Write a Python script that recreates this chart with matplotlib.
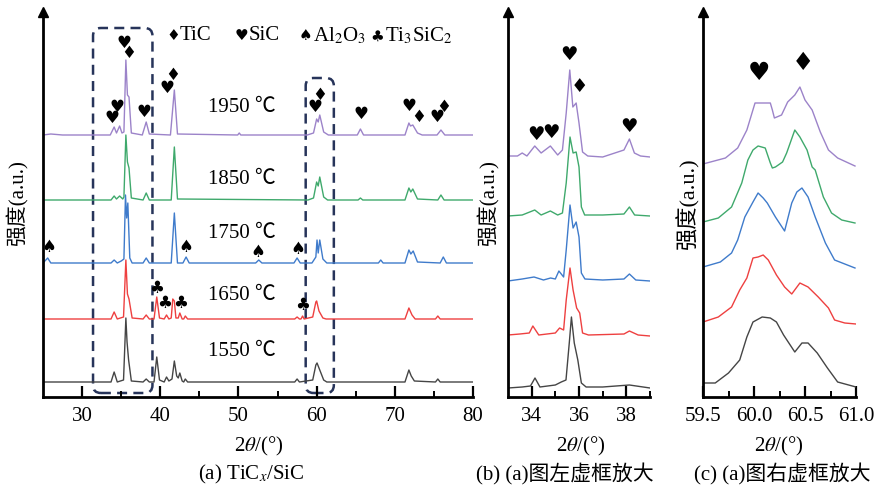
import numpy as np
import matplotlib
matplotlib.use('Agg')
import matplotlib.pyplot as plt
from matplotlib.patches import FancyBboxPatch

plt.rcParams['font.family'] = ['Liberation Serif', 'Noto Sans CJK SC', 'DejaVu Sans']
plt.rcParams['mathtext.fontset'] = 'stix'

# ---- data (intensity above each curve's own baseline, arbitrary units) ----
temps = ['1550 ℃', '1650 ℃', '1750 ℃', '1850 ℃', '1950 ℃']
colors = ['#454545', '#ee4040', '#3f7bcb', '#3fa96c', '#9c83c9']

# panel (a): full scan 25-80
a_x_1550 = [25, 30, 33.7, 34.1, 34.5, 35.3, 35.6, 35.75, 35.95, 36.3, 37.8, 38.2, 38.6, 39.2, 39.55, 39.9,
            40.5, 40.8, 41.1, 41.5, 41.8, 42.1, 42.3, 42.5, 42.8, 43.0, 43.2, 43.5, 57.2, 57.5, 57.8, 59.5,
            59.9, 60.05, 60.3, 60.5, 60.9, 61.3, 71.3, 71.8, 72.1, 72.5, 75.2, 75.5, 75.8, 80]
a_y_1550 = [0, 0, 0, 10, 0, 2, 64, 40, 22, 1, 0, 3, 0, 0, 25, 2,
            0, 5, 1, 3, 21, 6, 4, 9, 1, 0, 3, 0, 0, 3, 0, 2,
            17, 19, 14, 10, 2, 0, 0, 12, 6, 1, 0, 3, 0, 0]
a_x_1650 = [25, 30, 33.7, 34.1, 34.5, 35.3, 35.6, 35.8, 36.0, 36.4, 37.8, 38.2, 38.6, 39.2, 39.55, 39.9,
            40.5, 40.8, 41.1, 41.4, 41.6, 41.8, 42.0, 42.3, 42.5, 42.8, 43.0, 43.2, 43.5, 57.2, 57.5, 57.8,
            58.0, 58.2, 58.4, 59.5, 59.9, 60.0, 60.3, 60.8, 61.2, 71.3, 71.8, 72.2, 72.6, 75.2, 75.5, 75.8, 80]
a_y_1650 = [0, 0, 0, 7, 0, 2, 59, 25, 20, 1, 0, 4, 0, 0, 22, 1,
            0, 4, 0, 1, 20, 18, 1, 1, 6, 0, 0, 3, 0, 0, 2, 0,
            0, 3, 0, 2, 17, 18, 8, 1, 0, 0, 11, 4, 0, 0, 3, 0, 0]
a_x_1750 = [25, 25.6, 26.0, 30, 33.7, 34.1, 34.5, 35.0, 35.35, 35.55, 35.7, 35.85, 36.1, 36.4, 37.8, 38.2,
            38.6, 41.4, 41.8, 42.2, 42.9, 43.3, 43.7, 52.2, 52.6, 53.0, 57.1, 57.5, 57.9, 59.4, 59.9, 60.05,
            60.2, 60.4, 60.8, 61.3, 67.9, 68.2, 68.5, 71.3, 71.8, 72.05, 72.35, 72.9, 75.8, 76.2, 76.6, 80]
a_y_1750 = [0, 5, 0, 0, 0, 3, 0, 2, 4, 68, 45, 60, 5, 0, 0, 5,
            0, 0, 50, 0, 0, 6, 0, 0, 3, 0, 0, 5, 0, 0, 6, 23,
            10, 23, 4, 0, 0, 3, 0, 0, 13, 9, 12, 1, 0, 6, 0, 0]
a_x_1850 = [25, 30, 33.7, 34.1, 34.4, 34.8, 35.2, 35.35, 35.6, 35.8, 36.0, 36.3, 37.8, 38.2, 38.6, 41.4,
            41.8, 42.2, 58.9, 59.6, 60.0, 60.2, 60.4, 60.9, 61.4, 65.3, 65.6, 65.9, 71.3, 71.8, 72.05, 72.3,
            72.9, 75.5, 75.9, 76.3, 80]
a_y_1850 = [0, 0, 0, 4, 1, 4, 1, 3, 65, 38, 32, 2, 0, 7, 0, 0,
            53, 1, 0, 2, 18, 14, 23, 3, 0, 0, 2, 0, 0, 12, 8, 11,
            1, 0, 5, 0, 0]
a_x_1950 = [25, 26, 27.5, 30, 33.6, 34.1, 34.4, 34.8, 35.1, 35.35, 35.6, 35.8, 36.0, 36.3, 37.7, 38.2,
            38.6, 41.3, 41.8, 42.2, 49.9, 50.1, 50.3, 58.8, 59.6, 60.0, 60.2, 60.4, 60.9, 61.5, 65.2, 65.6,
            66.0, 71.3, 71.8, 72.0, 72.3, 72.9, 73.5, 75.4, 75.9, 76.4, 80]
a_y_1950 = [0, 1, 0, 0, 0, 8, 2, 9, 2, 3, 75, 40, 38, 2, 0, 13,
            1, 0, 45, 1, 0, 2, 0, 0, 2, 16, 13, 20, 3, 0, 0, 6,
            0, 0, 12, 9, 10, 2, 0, 0, 5, 0, 0]

# panel (b): zoom 33-39
b_x_1550 = [33.0, 33.6, 33.95, 34.14, 34.35, 35.0, 35.25, 35.45, 35.6, 35.68, 35.8, 35.95, 36.1, 36.3, 37.0, 38.13, 39.0]
b_y_1550 = [0, 1, 2, 10, 1, 3, 6, 8, 48, 71, 45, 28, 5, 1, 1, 3, 0]
b_x_1650 = [33.0, 33.5, 33.9, 34.05, 34.3, 35.0, 35.18, 35.35, 35.46, 35.62, 35.75, 35.9, 36.03, 36.15, 36.4, 37.9, 38.13, 38.5, 39.0]
b_y_1650 = [0, 1, 2, 9, 0, 2, 7, 5, 35, 67, 45, 27, 22, 2, 0, 1, 4, 0, -1]
b_x_1750 = [33.0, 33.6, 34.1, 34.5, 34.8, 35.0, 35.15, 35.35, 35.46, 35.62, 35.75, 35.88, 36.0, 36.1, 36.25, 37.0, 37.9, 38.13, 38.4, 39.0]
b_y_1750 = [-1, 1, 3, 0, 2, 1, 9, 3, 30, 75, 52, 58, 43, 7, 1, 0, 1, 6, 0, -1]
b_x_1850 = [33.0, 33.6, 34.13, 34.4, 34.79, 35.1, 35.3, 35.46, 35.62, 35.75, 35.88, 36.0, 36.1, 36.24, 37.0, 37.9, 38.13, 38.35, 39.0]
b_y_1850 = [-1, 0, 5, 0, 4, 0, 2, 32, 78, 62, 63, 48, 8, 0, 0, 1, 8, 0, -1]
b_x_1950 = [33.0, 33.4, 33.6, 33.8, 34.13, 34.4, 34.79, 35.1, 35.3, 35.46, 35.61, 35.74, 35.88, 36.0, 36.15, 36.37, 37.0, 37.9, 38.13, 38.34, 38.6, 39.0]
b_y_1950 = [0, 0, 3, 0, 10, 3, 10, 1, 6, 43, 86, 49, 53, 33, 4, 0, -1, 6, 17, 3, 0, -1]

# panel (c): zoom 59.5-61
c_x_1550 = [59.50, 59.62, 59.75, 59.86, 59.93, 59.99, 60.08, 60.16, 60.22, 60.29, 60.40, 60.47, 60.53, 60.62, 60.72, 60.82, 61.0]
c_y_1550 = [1, 1, 11, 24, 47, 62, 67, 66, 62, 49, 32, 41, 41, 31, 16, 2, -3]
c_x_1650 = [59.50, 59.65, 59.78, 59.86, 59.93, 59.99, 60.04, 60.09, 60.14, 60.22, 60.30, 60.37, 60.45, 60.53, 60.63, 60.73, 60.79, 60.89, 61.0]
c_y_1650 = [0, 5, 15, 32, 44, 64, 65, 67, 62, 47, 35, 28, 39, 35, 25, 14, 2, -1, -2]
c_x_1750 = [59.50, 59.67, 59.78, 59.84, 59.91, 59.99, 60.04, 60.09, 60.13, 60.21, 60.30, 60.37, 60.42, 60.47, 60.53, 60.60, 60.70, 60.79, 60.99]
c_y_1750 = [0, 5, 14, 27, 50, 65, 74, 69, 64, 50, 36, 64, 75, 79, 70, 50, 24, 7, -1]
c_x_1850 = [59.50, 59.65, 59.78, 59.88, 59.94, 59.99, 60.04, 60.11, 60.16, 60.18, 60.21, 60.28, 60.32, 60.40, 60.45, 60.52, 60.57, 60.60, 60.68, 60.76, 60.86, 60.99]
c_y_1850 = [0, 4, 15, 39, 62, 72, 76, 74, 59, 54, 55, 60, 69, 92, 85, 72, 55, 52, 25, 9, 2, -1]
c_x_1950 = [59.50, 59.72, 59.84, 59.93, 60.01, 60.08, 60.16, 60.18, 60.20, 60.27, 60.33, 60.40, 60.45, 60.50, 60.57, 60.65, 60.73, 60.82, 60.99]
c_y_1950 = [1, 7, 17, 35, 62, 62, 62, 55, 47, 50, 63, 70, 78, 65, 55, 33, 15, 7, -1]

a_curves = [(a_x_1550, a_y_1550), (a_x_1650, a_y_1650), (a_x_1750, a_y_1750), (a_x_1850, a_y_1850), (a_x_1950, a_y_1950)]
b_curves = [(b_x_1550, b_y_1550), (b_x_1650, b_y_1650), (b_x_1750, b_y_1750), (b_x_1850, b_y_1850), (b_x_1950, b_y_1950)]
c_curves = [(c_x_1550, c_y_1550), (c_x_1650, c_y_1650), (c_x_1750, c_y_1750), (c_x_1850, c_y_1850), (c_x_1950, c_y_1950)]

# vertical offsets of the stacked curves
a_offsets = [15, 78, 134, 197, 262]
b_offsets = [9, 62, 117, 182, 241]
c_offsets = [13, 75, 130, 175, 232]

# phase markers: (symbol, 2theta, height)
a_marks = [('♥', 33.8, 279), ('♥', 34.5, 290), ('♥', 35.4, 354), ('♦', 36.0, 344),
           ('♥', 37.9, 285), ('♥', 40.9, 309), ('♦', 41.6, 322), ('♥', 59.8, 290),
           ('♦', 60.4, 302), ('♥', 65.7, 283), ('♥', 71.8, 291), ('♦', 73.0, 280),
           ('♥', 75.4, 280), ('♦', 76.2, 290),
           ('♠', 25.8, 150), ('♠', 43.3, 150), ('♠', 52.5, 145), ('♠', 57.6, 148),
           ('♣', 39.5, 109), ('♣', 40.6, 94), ('♣', 42.6, 94), ('♣', 58.2, 92)]
b_marks = [('♥', 34.2, 262), ('♥', 34.8, 264), ('♥', 35.56, 342), ('♦', 36.0, 310), ('♥', 38.1, 270)]
c_marks = [('♥', 60.05, 324), ('♦', 60.48, 334)]

legend_syms = ['♦', '♥', '♠', '♣']
legend_names = ['TiC', 'SiC', 'Al$_2$O$_3$', 'Ti$_3$SiC$_2$']

fig = plt.figure(figsize=(8.74, 4.87), dpi=100)
W, H = 874, 487


def make_ax(left, right, xlim):
    ax = fig.add_axes([left / W, (H - 397) / H, (right - left) / W, 385 / H])
    ax.set_xlim(*xlim)
    ax.set_ylim(0, 385)
    for s in ['top', 'right']:
        ax.spines[s].set_visible(False)
    for s in ['left', 'bottom']:
        ax.spines[s].set_linewidth(2)
    ax.set_yticks([])
    ax.tick_params(axis='x', direction='in', length=8, width=1.6, labelsize=15, pad=7)
    ax.tick_params(axis='x', which='minor', direction='in', length=4, width=1.4)
    ax.plot(0, 1, marker='^', color='k', markersize=7, transform=ax.transAxes, clip_on=False)
    return ax


def draw(ax, curves, offsets, marks, msize):
    for (x, y), off, col in zip(curves, offsets, colors):
        ax.plot(x, np.array(y) + off, color=col, lw=1.0)
    for sym, xx, yy in marks:
        ax.text(xx, yy, sym, family='DejaVu Sans', fontsize=msize, ha='center', va='center')


# (a)
ax1 = make_ax(43, 473, (25, 80))
ax1.set_xticks([30, 40, 50, 60, 70, 80])
ax1.set_xticks([35, 45, 55, 65, 75], minor=True)
draw(ax1, a_curves, a_offsets, a_marks, 12)
for t, yy in zip(temps, [45, 102, 164, 218, 289]):
    ax1.text(50.4, yy, t, fontsize=15, ha='center', va='center')
for sym, name, xs, xn in zip(legend_syms, legend_names, [41.6, 50.4, 58.6, 67.8], [42.5, 51.3, 59.5, 68.7]):
    ax1.text(xs, 361, sym, family='DejaVu Sans', fontsize=11, ha='center', va='center')
    ax1.text(xn, 361, name, fontsize=15, ha='left', va='center')
for x0, x1, y1 in [(31.4, 39.0, 369), (58.6, 62.2, 319)]:
    box = FancyBboxPatch((x0, 4), x1 - x0, y1 - 4, boxstyle='round,pad=0,rounding_size=1.0',
                         mutation_aspect=7.8, fill=False, ec='#27345a', lw=1.8, ls=(0, (4, 2.5)),
                         clip_on=False)
    ax1.add_patch(box)

# (b)
ax2 = make_ax(508, 650, (33, 39))
ax2.set_xticks([34, 36, 38])
ax2.set_xticks([35, 37, 39], minor=True)
draw(ax2, b_curves, b_offsets, b_marks, 14)

# (c)
ax3 = make_ax(703, 856, (59.5, 61.0))
ax3.set_xticks([59.5, 60.0, 60.5, 61.0])
ax3.set_xticklabels(['59.5', '60.0', '60.5', '61.0'])
ax3.set_xticks([59.75, 60.25, 60.75], minor=True)
draw(ax3, c_curves, c_offsets, c_marks, 18)

# labels
for xp, fs in [(17, 15), (488, 15), (688, 16)]:
    fig.text(xp / W, 1 - 203 / H, '强度(a.u.)', rotation=90, fontsize=fs, ha='center', va='center')
for xp in [259, 581, 779]:
    fig.text(xp / W, 1 - 446 / H, r'2$\theta$/(°)', fontsize=15, ha='center', va='center')
fig.text(251 / W, 1 - 474 / H, '(a) TiC$_x$/SiC', fontsize=15, ha='center', va='center')
fig.text(565 / W, 1 - 474 / H, '(b) (a)图左虚框放大', fontsize=15, ha='center', va='center')
fig.text(782 / W, 1 - 474 / H, '(c) (a)图右虚框放大', fontsize=15, ha='center', va='center')

fig.savefig('out.png', dpi=100)
